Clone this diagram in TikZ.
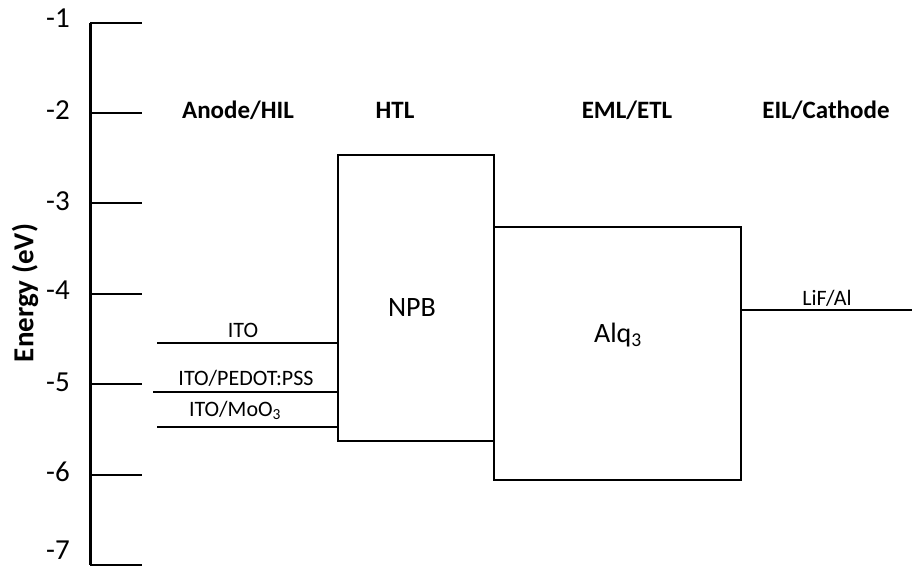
\documentclass[tikz,border=0pt]{standalone}
\usepackage{fontspec}
\setmainfont{Carlito}
\begin{document}
\begin{tikzpicture}[x=1pt,y=-1pt,
  axisline/.style={line width=3pt},
  tickline/.style={line width=2pt},
  level/.style={line width=2pt},
  band/.style={draw,line width=2pt,inner sep=0pt},
  ticklab/.style={anchor=east,inner sep=0pt,font=\fontsize{29}{33}\selectfont},
  title/.style={anchor=base,inner sep=0pt,font=\fontsize{25}{29}\selectfont\bfseries},
  small/.style={anchor=base,inner sep=0pt,font=\fontsize{22}{26}\selectfont},
  big/.style={inner sep=0pt,font=\fontsize{28}{33}\selectfont}]
\useasboundingbox (0,0) rectangle (912,569);
% axis
\coordinate (axtop) at (90,22.7);
\coordinate (axbot) at (90,565);
\draw[axisline] (axtop) -- (axbot);
\foreach \k/\v in {0/-1,1/-2,2/-3,3/-4,4/-5,5/-6,6/-7}{
  \coordinate (t\k) at (90,22.7+90.4*\k);
  \coordinate (te\k) at (142,22.7+90.4*\k);
  \draw[tickline] (t\k) -- (te\k);
}
\foreach \k/\v/\dy in {0/-1/-5,1/-2/-3,2/-3/-2,3/-4/-4,4/-5/-2,5/-6/-3,6/-7/-15}{
  \node[ticklab] (tl\k) at (70,22.7+90.4*\k+\dy) {\v};
}
\node[rotate=90,inner sep=0pt,font=\fontsize{29}{33}\selectfont\bfseries] (elab) at (25,293) {Energy (eV)};
% titles
\node[title] (tanode) at (238,119) {Anode/HIL};
\node[title] (thtl) at (395,119) {HTL};
\node[title] (teml) at (627,119) {EML/ETL};
\node[title] (teil) at (826,119) {EIL/Cathode};
% bands
\node[band,minimum width=156pt,minimum height=286pt] (npb) at (416,298) {};
\node[band,minimum width=247pt,minimum height=253pt] (alq) at (617.5,353.5) {};
\node[big] (npblab) at (412,308) {NPB};
\node[big,anchor=base] (alqlab) at (618,342) {Alq\textsubscript{3}};
% anode levels
\coordinate (ito) at (157,343);
\coordinate (pedot) at (153,392);
\coordinate (moo) at (157,427);
\draw[level] (ito) -- (ito -| npb.west);
\draw[level] (pedot) -- (pedot -| npb.west);
\draw[level] (moo) -- (moo -| npb.west);
\node[small] (itolab) at (243,337) {ITO};
\node[small] (pedotlab) at (246,385) {ITO/PEDOT:PSS};
\node[small] (moolab) at (235,416) {ITO/MoO\textsubscript{3}};
% cathode
\coordinate (lifR) at (912,310);
\draw[level] (lifR -| alq.east) -- (lifR);
\node[small] (liflab) at (827,305) {LiF/Al};
\end{tikzpicture}
\end{document}
